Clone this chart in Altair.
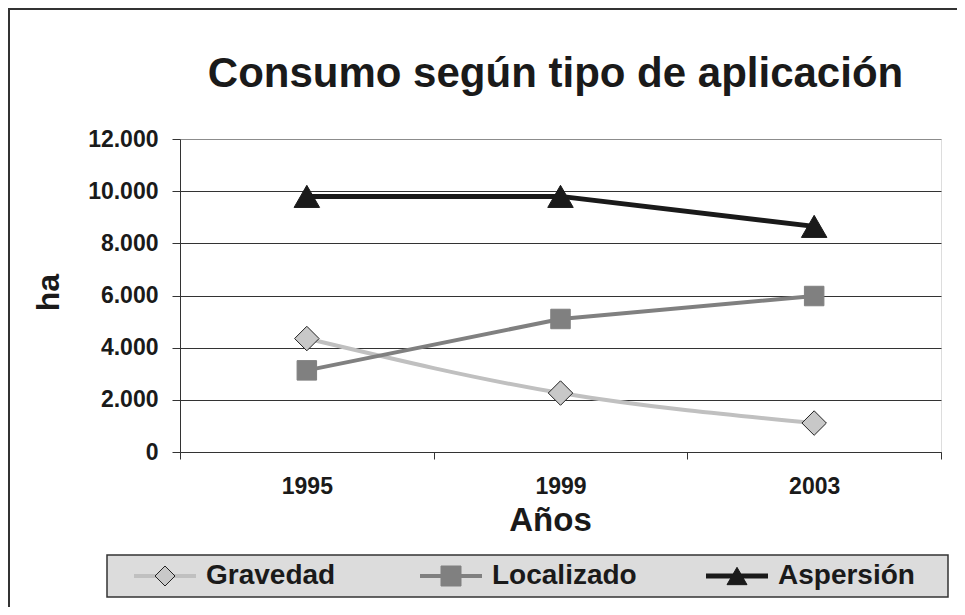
import altair as alt
import pandas as pd

# ---- data ----
years = ["1995", "1999", "2003"]
series = ["Gravedad", "Localizado", "Aspersión"]
gravedad = [4350, 2260, 1110]
localizado = [3130, 5100, 5980]
aspersion = [9800, 9800, 8650]
y_ticks = [0, 2000, 4000, 6000, 8000, 10000, 12000]
title_text = ["Consumo según tipo de aplicación"]

# ---- styles (per series, same order as `series`) ----
line_colors = ["#c0c0c0", "#808080", "#1a1a1a"]
fill_colors = ["#c8c8c8", "#808080", "#1a1a1a"]
stroke_colors = ["#222222", "#808080", "#1a1a1a"]
line_widths = [4, 4, 5]
marker_sizes = [600, 380, 650]
shape_names = ["diamond", "square", "triangle-up"]
FONT = "Liberation Sans"
TXT = "#1a1a1a"

rows = []
for s, vals in zip(series, [gravedad, localizado, aspersion]):
    for yr, v in zip(years, vals):
        rows.append({"serie": s, "marca": s, "anio": yr, "valor": v})
df = pd.DataFrame(rows)
legend_df = pd.DataFrame({"serie": series, "marca": series})

# ---- shared encodings ----
color_enc = alt.Color("serie:N", scale=alt.Scale(domain=series, range=line_colors), legend=None)
sw_enc = alt.StrokeWidth("serie:N", scale=alt.Scale(type="ordinal", domain=series, range=line_widths), legend=None)
shape_enc = alt.Shape("marca:N", scale=alt.Scale(domain=series, range=shape_names), legend=None)
fill_enc = alt.Fill("marca:N", scale=alt.Scale(domain=series, range=fill_colors), legend=None)
stroke_enc = alt.Stroke("marca:N", scale=alt.Scale(domain=series, range=stroke_colors), legend=None)

x_enc = alt.X(
    "anio:O",
    scale=alt.Scale(type="band", paddingInner=0, paddingOuter=0),
    axis=alt.Axis(
        title="Años", labelAngle=0, tickBand="extent", tickSize=7,
        tickColor="#333333", domainColor="#333333", labelFont=FONT,
        labelFontSize=23, labelFontWeight="bold", labelColor=TXT,
        labelPadding=16, titleFont=FONT, titleFontSize=33,
        titleFontWeight="bold", titleColor=TXT, titleX=370, titleY=78,
        titleBaseline="alphabetic", titleAnchor="start", titleAlign="center",
    ),
)
y_enc = alt.Y(
    "valor:Q",
    scale=alt.Scale(domain=[0, 12000], nice=False),
    axis=alt.Axis(
        values=y_ticks, labelExpr="replace(format(datum.value, ','), ',', '.')",
        grid=True,
        gridColor={"condition": {"test": "datum.value >= 12000", "value": "#8c8c8c"},
                   "value": "#333333"},
        tickSize=8, tickColor="#333333", domainColor="#333333",
        labelFont=FONT, labelFontSize=23, labelFontWeight="bold",
        labelColor=TXT, labelPadding=14,
        title="ha", titleFont=FONT, titleFontSize=32, titleFontWeight="bold",
        titleColor=TXT, titleX=-132, titleY=153, titleAngle=270,
        titleBaseline="middle", titleAlign="center",
    ),
)

# ---- plot ----
base = alt.Chart(df)
line_smooth = base.transform_filter("datum.serie == 'Gravedad'").mark_line(
    interpolate="monotone").encode(x=x_enc, y=y_enc, color=color_enc, strokeWidth=sw_enc)
line_straight = base.transform_filter("datum.serie != 'Gravedad'").mark_line().encode(
    x=x_enc, y=y_enc, color=color_enc, strokeWidth=sw_enc)
points = base.mark_point(filled=True, opacity=1, strokeWidth=1).encode(
    x=x_enc, y=y_enc, shape=shape_enc, fill=fill_enc, stroke=stroke_enc,
    size=alt.Size("marca:N", scale=alt.Scale(type="ordinal", domain=series, range=marker_sizes), legend=None),
)
main = alt.layer(line_smooth, line_straight, points)

# ---- legend (line + marker + label per series) ----
leg_x = alt.X("serie:N", scale=alt.Scale(type="point", domain=series, range=[-15, 557], padding=0), axis=None)
leg_y = alt.value(437)
one = pd.DataFrame({"k": [0]})
legend_box = alt.Chart(one).mark_rect(
    fill="#dcdcdc", stroke="#333333", strokeWidth=1.5).encode(
    x=alt.value(-73), x2=alt.value(768), y=alt.value(416), y2=alt.value(458))
lbase = alt.Chart(legend_df)
leg_lines = lbase.mark_point(shape="M-1,0L1,0", size=3844, filled=False, opacity=1).encode(
    x=leg_x, y=leg_y, color=color_enc, strokeWidth=sw_enc)
leg_marks = lbase.mark_point(filled=True, opacity=1, size=400, strokeWidth=1).encode(
    x=leg_x, y=leg_y, shape=shape_enc, fill=fill_enc, stroke=stroke_enc)
leg_text = lbase.mark_text(
    align="left", baseline="middle", dx=41, font=FONT, fontSize=28,
    fontWeight="bold", color=TXT).encode(x=leg_x, y=leg_y, text="serie:N")
legend_layer = alt.layer(legend_box, leg_lines, leg_marks, leg_text)

# ---- frame and title ----
frame = alt.Chart(one).mark_rect(
    fillOpacity=0, stroke="#333333", strokeWidth=2).encode(
    x=alt.value(-171), x2=alt.value(900), y=alt.value(-130), y2=alt.value(700))
title = alt.Chart(pd.DataFrame({"t": title_text})).mark_text(
    font=FONT, fontSize=42, fontWeight="bold", color=TXT, align="center",
    baseline="alphabetic").encode(
    text="t:N", x=alt.value(375.5), y=alt.value(-52))

chart = alt.layer(frame, title, main, legend_layer).resolve_scale(
    x="independent"
).properties(
    width=761, height=313,
    autosize=alt.AutoSizeParams(type="none"),
    padding={"left": 172, "top": 131, "right": 16, "bottom": 155},
).configure_view(fill="#dcdcdc", stroke="#8c8c8c", strokeWidth=1
).configure(background="white")

chart.save("out.html", embed_options={"renderer": "svg", "actions": False})
